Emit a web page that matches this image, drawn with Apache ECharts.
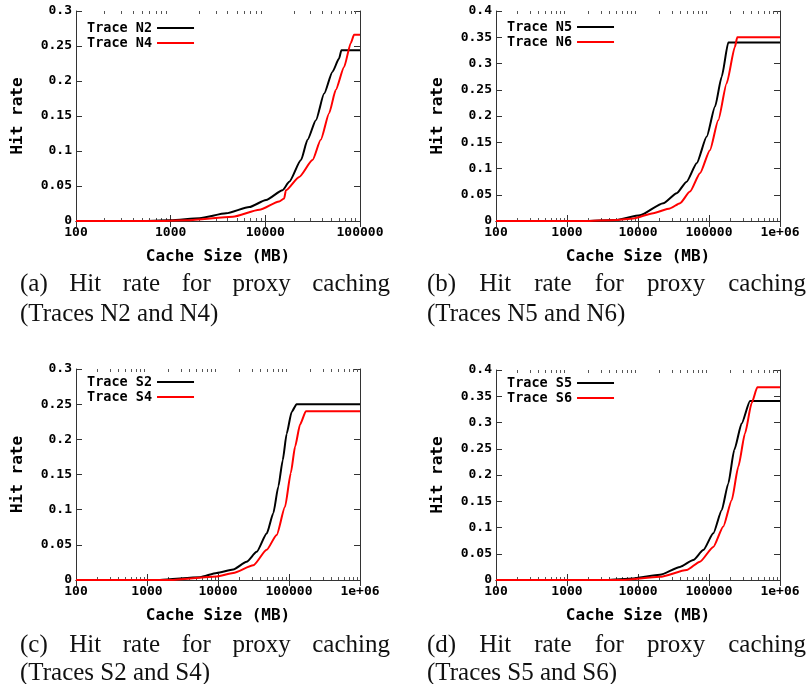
<!DOCTYPE html>
<html>
<head>
<meta charset="utf-8">
<script src="https://cdn.jsdelivr.net/npm/echarts@6/dist/echarts.min.js"></script>
<style>
html, body { margin: 0; padding: 0; background: #fff; }
#main { width: 808px; height: 684px; }
</style>
</head>
<body>
<div id="main"></div>
<script>
// cache size (MB) / hit rate
const n2Size = [100, 437, 1000, 2018, 3857, 6790, 10170, 15200, 17900, 23800, 27900, 34200, 41800, 51100, 60100, 63600, 100000];
const n2Hit  = [0, 0, 0.001, 0.004, 0.011, 0.020, 0.030, 0.044, 0.056, 0.087, 0.116, 0.144, 0.182, 0.213, 0.232, 0.244, 0.244];
const n4Size = [100, 647, 1500, 4530, 8650, 14000, 15800, 16500, 22800, 31500, 38500, 47200, 55400, 67900, 79800, 86500, 100000];
const n4Hit  = [0, 0, 0.001, 0.006, 0.016, 0.028, 0.032, 0.044, 0.063, 0.087, 0.116, 0.154, 0.187, 0.220, 0.254, 0.266, 0.266];

const n5Size = [100, 1680, 5020, 10670, 22700, 35100, 48500, 67100, 92900, 121600, 151000, 187000, 1000000];
const n5Hit  = [0, 0, 0.002, 0.011, 0.034, 0.053, 0.075, 0.110, 0.161, 0.218, 0.275, 0.340, 0.340];
const n6Size = [100, 1700, 5000, 8590, 16400, 28200, 39100, 54000, 74700, 103000, 135000, 177000, 232000, 250000, 1000000];
const n6Hit  = [0, 0, 0.002, 0.005, 0.015, 0.024, 0.034, 0.056, 0.091, 0.135, 0.192, 0.262, 0.332, 0.350, 0.350];

const s2Size = [100, 1520, 5570, 9570, 16400, 25300, 35100, 48500, 60100, 70800, 81500, 92700, 109000, 128000, 1000000];
const s2Hit  = [0, 0, 0.004, 0.010, 0.015, 0.026, 0.040, 0.066, 0.095, 0.133, 0.170, 0.208, 0.239, 0.250, 0.250];
const s4Size = [100, 2100, 9570, 16400, 31500, 48500, 67000, 87900, 106000, 122000, 143000, 173000, 1000000];
const s4Hit  = [0, 0, 0.005, 0.010, 0.021, 0.043, 0.064, 0.104, 0.152, 0.190, 0.221, 0.240, 0.240];

const s5Size = [100, 3620, 8590, 20400, 39100, 60100, 83200, 115000, 151000, 187000, 227000, 288000, 378000, 1000000];
const s5Hit  = [0, 0, 0.003, 0.010, 0.025, 0.038, 0.057, 0.089, 0.133, 0.184, 0.248, 0.298, 0.341, 0.341];
const s6Size = [100, 5570, 20400, 48500, 74700, 115000, 159000, 209000, 259000, 321000, 399000, 479000, 1000000];
const s6Hit  = [0, 0, 0.006, 0.019, 0.035, 0.063, 0.102, 0.152, 0.216, 0.279, 0.337, 0.367, 0.367];

const xTickLabels = ['100', '1000', '10000', '100000', '1e+06'];
const captionLines1 = ['(a) Hit rate for proxy caching', '(b) Hit rate for proxy caching',
                       '(c) Hit rate for proxy caching', '(d) Hit rate for proxy caching'];
const captionLines2 = ['(Traces N2 and N4)', '(Traces N5 and N6)', '(Traces S2 and S4)', '(Traces S5 and S6)'];

const panels = [
    { grid: { left: 76, top: 11, width: 284, height: 210 }, xMax: 100000, yMax: 0.3,
      traces: [['Trace N2', n2Size, n2Hit, '#000'], ['Trace N4', n4Size, n4Hit, '#ff0000']],
      legend: [87, 21], cap: [20, 390, 284, 314] },
    { grid: { left: 496, top: 11, width: 284, height: 210 }, xMax: 1000000, yMax: 0.4,
      traces: [['Trace N5', n5Size, n5Hit, '#000'], ['Trace N6', n6Size, n6Hit, '#ff0000']],
      legend: [507, 20], cap: [427, 806, 284, 314] },
    { grid: { left: 76, top: 369, width: 284, height: 211 }, xMax: 1000000, yMax: 0.3,
      traces: [['Trace S2', s2Size, s2Hit, '#000'], ['Trace S4', s4Size, s4Hit, '#ff0000']],
      legend: [87, 375], cap: [20, 390, 645, 673] },
    { grid: { left: 496, top: 370, width: 284, height: 210 }, xMax: 1000000, yMax: 0.4,
      traces: [['Trace S5', s5Size, s5Hit, '#000'], ['Trace S6', s6Size, s6Hit, '#ff0000']],
      legend: [507, 376], cap: [427, 806, 645, 673] }
];

const mono = 'DejaVu Sans Mono';
const boxColor = '#333';
const serif = 'Liberation Serif';
const capSize = 25;

function minorTicks(hi) {
    const out = [];
    for (let e = 2; e < Math.log10(hi) - 0.001; e++) {
        for (let k = 2; k <= 9; k++) out.push(e + Math.log10(k));
    }
    return out;
}

const grid = [], xAxis = [], yAxis = [], series = [], legend = [], graphic = [];

panels.forEach((p, i) => {
    grid.push(Object.assign({ containLabel: false }, p.grid));
    const xi = xAxis.length;
    const minor = minorTicks(p.xMax);
    xAxis.push({
        type: 'log', logBase: 10, gridIndex: i, min: 100, max: p.xMax, position: 'bottom',
        axisLine: { show: true, onZero: false, lineStyle: { color: boxColor, width: 1 } },
        axisTick: { show: true, inside: true, length: 6, lineStyle: { color: boxColor } },
        axisLabel: {
            fontFamily: mono, fontWeight: 'bold', fontSize: 13, color: '#000', margin: 5,
            showMinLabel: true, showMaxLabel: true,
            formatter: v => xTickLabels[Math.round(Math.log10(v)) - 2]
        },
        splitLine: { show: false },
        name: 'Cache Size (MB)', nameLocation: 'middle', nameGap: 28,
        nameTextStyle: { fontFamily: mono, fontWeight: 'bold', fontSize: 16, color: '#000' }
    });
    xAxis.push({
        type: 'log', logBase: 10, gridIndex: i, min: 100, max: p.xMax, position: 'top',
        axisLine: { show: true, lineStyle: { color: boxColor, width: 1 } },
        axisTick: { show: true, inside: true, length: 6, lineStyle: { color: boxColor } },
        axisLabel: { show: false }, splitLine: { show: false }
    });
    // minor log ticks, bottom and top (grid flips the repeated position)
    ['bottom', 'top'].forEach(pos => {
        xAxis.push({
            type: 'value', gridIndex: i, min: 2, max: Math.log10(p.xMax), position: pos,
            axisLine: { show: false },
            axisTick: { show: true, inside: true, length: 3, customValues: minor, lineStyle: { color: '#555' } },
            axisLabel: { show: false }, splitLine: { show: false }
        });
    });
    const yi = yAxis.length;
    yAxis.push({
        type: 'value', gridIndex: i, min: 0, max: p.yMax, interval: 0.05, position: 'left',
        axisLine: { show: true, onZero: false, lineStyle: { color: boxColor, width: 1 } },
        axisTick: { show: true, inside: true, length: 6, lineStyle: { color: boxColor } },
        axisLabel: { fontFamily: mono, fontWeight: 'bold', fontSize: 13, color: '#000', margin: 4 },
        splitLine: { show: false },
        name: 'Hit rate', nameLocation: 'middle', nameGap: 50, nameRotate: 90,
        nameTextStyle: { fontFamily: mono, fontWeight: 'bold', fontSize: 16, color: '#000' }
    });
    yAxis.push({
        type: 'value', gridIndex: i, min: 0, max: p.yMax, interval: 0.05, position: 'right',
        axisLine: { show: true, lineStyle: { color: boxColor, width: 1 } },
        axisTick: { show: true, inside: true, length: 6, lineStyle: { color: boxColor } },
        axisLabel: { show: false }, splitLine: { show: false }
    });
    p.traces.forEach(t => {
        series.push({
            type: 'line', name: t[0], xAxisIndex: xi, yAxisIndex: yi,
            data: t[1].map((s, k) => [s, t[2][k]]),
            showSymbol: false, symbol: 'none', smooth: 0.2, smoothMonotone: 'x',
            lineStyle: { width: 2, color: t[3] }, itemStyle: { color: t[3] }
        });
    });
    legend.push({
        data: p.traces.map(t => t[0]), left: p.legend[0], top: p.legend[1],
        orient: 'vertical', align: 'right', icon: 'rect', itemWidth: 37, itemHeight: 2, itemGap: 1,
        padding: 0, selectedMode: false,
        textStyle: { fontFamily: mono, fontWeight: 'bold', fontSize: 13.5, lineHeight: 14, color: '#000' }
    });
});

// captions: first line justified like the LaTeX source
const ctx = document.createElement('canvas').getContext('2d');
ctx.font = capSize + 'px "' + serif + '"';
panels.forEach((p, i) => {
    const words = captionLines1[i].split(' ');
    const widths = words.map(w => ctx.measureText(w).width);
    const total = widths.reduce((a, b) => a + b, 0);
    const gap = (p.cap[1] - p.cap[0] - total) / (words.length - 1);
    let x = p.cap[0];
    words.forEach((w, k) => {
        graphic.push({ type: 'text', x: x, y: p.cap[2],
            style: { text: w, fontFamily: serif, fontSize: capSize, fill: '#111', verticalAlign: 'middle' } });
        x += widths[k] + gap;
    });
    graphic.push({ type: 'text', x: p.cap[0], y: p.cap[3],
        style: { text: captionLines2[i], fontFamily: serif, fontSize: capSize, fill: '#111', verticalAlign: 'middle' } });
});

const chart = echarts.init(document.getElementById('main'));
chart.setOption({
    animation: false,
    grid: grid, xAxis: xAxis, yAxis: yAxis, series: series, legend: legend, graphic: graphic
});
</script>
</body>
</html>
